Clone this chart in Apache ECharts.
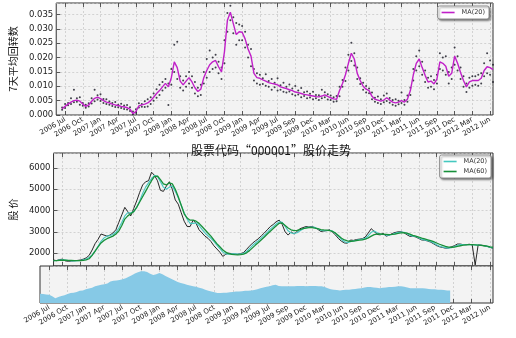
<!DOCTYPE html>
<html><head><meta charset="utf-8">
<script src="https://cdn.jsdelivr.net/npm/echarts@6/dist/echarts.min.js"></script>
<style>html,body{margin:0;padding:0;background:#fff}#c{width:516px;height:338px}</style>
</head><body><div id="c"></div>
<script>
const tickLabels = ['2006 Jul','2006 Oct','2007 Jan','2007 Apr','2007 Jul','2007 Oct','2008 Jan','2008 Apr','2008 Jul','2008 Oct','2009 Jan','2009 Apr','2009 Jul','2009 Sep','2009 Dec','2010 Mar','2010 Jun','2010 Sep','2010 Dec','2011 Mar','2011 Jun','2011 Sep','2011 Dec','2012 Mar','2012 Jun'];

const turnoverMA20 = [
null,null,0.0022,0.003,0.0038,0.0045,0.005,0.0052,0.0048,0.0038,
0.003,0.0035,0.0048,0.0058,0.0062,0.0057,0.005,0.0045,0.0042,0.0038,
0.0035,0.0033,0.003,0.0028,0.0026,0.002,0.0005,0.0012,0.0032,0.0035,
0.0038,0.0042,0.005,0.0062,0.0075,0.0085,0.0098,0.011,0.0098,0.013,
0.0185,0.0165,0.0118,0.0105,0.0118,0.013,0.0115,0.0095,0.0082,0.009,
0.013,0.0155,0.0175,0.0185,0.019,0.0168,0.015,0.022,0.033,0.0358,
0.0318,0.028,0.029,0.0288,0.0265,0.023,0.0205,0.0145,0.013,0.0128,
0.0122,0.0118,0.0113,0.011,0.0108,0.0105,0.0098,0.0095,0.0092,0.0088,
0.0085,0.008,0.0078,0.0075,0.0072,0.007,0.0068,0.0066,0.0064,0.0063,
0.0066,0.007,0.0065,0.006,0.0056,0.0055,0.0085,0.011,0.014,0.018,
0.0215,0.0195,0.0145,0.012,0.01,0.009,0.0085,0.0065,0.0055,0.0052,
0.0048,0.0052,0.006,0.0052,0.0045,0.0042,0.0045,0.005,0.0045,0.0055,
0.0085,0.014,0.018,0.0195,0.0165,0.0138,0.0115,0.0118,0.0108,0.0125,
0.0185,0.018,0.017,0.0135,0.0145,0.0205,0.018,0.0148,0.012,0.0098,
0.0115,0.012,0.012,0.012,0.0128,0.0155,0.0168,0.0165,0.0158];

const turnoverHigh = [
null,null,0.0026,0.0038,0.0042,0.0058,0.0088,0.0058,0.0062,0.0042,
0.0036,0.0041,0.0058,0.0088,0.0069,0.0072,0.0056,0.0055,0.0047,0.0042,
0.0045,0.0036,0.0039,0.0033,0.0035,0.0027,0.0012,0.002,0.0041,0.0038,
0.0048,0.0055,0.0062,0.0075,0.009,0.0105,0.0115,0.0125,0.011,0.016,
0.0245,0.0255,0.0135,0.012,0.0135,0.015,0.0135,0.0115,0.0095,0.0105,
0.015,0.0195,0.0225,0.02,0.021,0.0185,0.0165,0.026,0.0355,0.038,
0.034,0.032,0.0315,0.031,0.029,0.0245,0.023,0.016,0.0145,0.014,
0.0128,0.0142,0.0118,0.0125,0.0112,0.0128,0.0104,0.0112,0.0098,0.0106,
0.0092,0.0101,0.0085,0.0094,0.0079,0.0082,0.0074,0.0081,0.007,0.0069,
0.0088,0.0079,0.0072,0.0068,0.0062,0.0066,0.0098,0.0122,0.0165,0.021,
0.0252,0.0215,0.0165,0.0128,0.0112,0.0101,0.0092,0.0078,0.006,0.0064,
0.0055,0.0068,0.0075,0.0059,0.0052,0.0055,0.005,0.0078,0.0052,0.0068,
0.0095,0.016,0.0205,0.0225,0.0185,0.0155,0.013,0.0135,0.0122,0.014,
0.0215,0.02,0.0205,0.015,0.0165,0.0235,0.0205,0.0165,0.0135,0.011,
0.013,0.0135,0.0135,0.014,0.0145,0.018,0.0215,0.019,0.0175];

const turnoverLow = [
null,null,0.0018,0.0024,0.0034,0.0038,0.0044,0.0046,0.0036,0.0032,
0.0025,0.003,0.004,0.0048,0.0054,0.0049,0.0042,0.0038,0.0036,0.0031,
0.0028,0.0027,0.0024,0.0021,0.0019,0.0014,0.0002,0.0008,0.0026,0.0029,
0.0028,0.003,0.0038,0.005,0.006,0.007,0.0085,0.0095,0.0035,0.0105,
0.015,0.0125,0.0095,0.0085,0.0098,0.011,0.0095,0.0075,0.0065,0.007,
0.011,0.013,0.015,0.016,0.0165,0.0145,0.0125,0.018,0.029,0.033,
0.0285,0.0245,0.026,0.026,0.0235,0.02,0.017,0.012,0.011,0.0105,
0.0108,0.0102,0.0098,0.0088,0.0097,0.0085,0.0088,0.0081,0.0078,0.0082,
0.0072,0.0068,0.0071,0.0062,0.0066,0.0058,0.0061,0.0055,0.0058,0.0052,
0.0058,0.0062,0.0054,0.0052,0.0046,0.0048,0.0065,0.0098,0.0118,0.0155,
0.0188,0.0172,0.0125,0.0108,0.0088,0.0078,0.0076,0.0055,0.0046,0.0042,
0.0038,0.0044,0.0049,0.0043,0.0036,0.0032,0.0037,0.0042,0.0036,0.0046,
0.007,0.012,0.0155,0.017,0.014,0.0115,0.0095,0.0098,0.009,0.011,
0.016,0.0155,0.014,0.011,0.0125,0.0175,0.0155,0.0125,0.0098,0.008,
0.0095,0.0102,0.0105,0.0102,0.011,0.0135,0.0145,0.014,0.0115];

const price = [
1680,1650,1700,1720,1640,1620,1630,1650,1660,1680,
1720,1780,1900,2150,2450,2650,2900,2850,2800,2850,
2950,3100,3450,3800,4150,3950,3750,4100,4450,4850,
5200,5350,5400,5800,5650,5400,4950,4900,5150,5350,
5000,4500,4300,3900,3500,3250,3250,3550,3400,3100,
2950,2800,2700,2550,2350,2200,2050,1850,1950,2000,
1980,1960,1950,1980,2030,2180,2330,2470,2580,2680,
2820,2950,3100,3250,3350,3480,3550,3350,3000,2850,
3000,2900,3020,3150,3200,3250,3230,3250,3200,3120,
3020,3040,3060,3100,2980,2850,2680,2560,2480,2470,
2620,2600,2640,2660,2680,2760,2950,3150,3020,2880,
2860,2930,2800,2840,2920,2970,3000,3010,2960,2870,
2790,2800,2760,2690,2620,2610,2570,2520,2440,2360,
2300,2270,2235,2240,2300,2350,2430,2430,2400,2400,
2420,2390,1450,2390,2380,2350,2320,2270,2230];

const priceMA20 = [
1650,1660,1680,1690,1680,1660,1640,1640,1650,1660,
1690,1730,1800,1920,2100,2330,2560,2720,2800,2830,
2880,2980,3180,3450,3750,3900,3900,3950,4150,4450,
4800,5100,5300,5500,5650,5600,5350,5100,5000,5100,
5150,4900,4600,4250,3900,3600,3400,3400,3420,3300,
3120,2950,2820,2700,2550,2380,2220,2050,1970,1950,
1970,1970,1960,1960,1990,2080,2220,2360,2480,2590,
2720,2850,2980,3130,3250,3370,3470,3450,3250,3050,
2950,2930,2960,3050,3130,3200,3220,3230,3210,3150,
3080,3050,3050,3080,3030,2920,2780,2640,2540,2490,
2540,2580,2610,2640,2660,2700,2820,2980,3040,2960,
2890,2880,2850,2840,2880,2930,2970,2990,2980,2920,
2840,2800,2780,2720,2650,2620,2590,2550,2480,2400,
2330,2290,2260,2240,2260,2310,2370,2410,2410,2400,
2400,2400,2390,2380,2370,2350,2320,2280,2250];

const priceMA60 = [
1650,1650,1660,1670,1670,1665,1660,1655,1650,1650,
1660,1690,1740,1900,2100,2300,2480,2600,2680,2740,
2800,2900,3050,3300,3600,3750,3850,3950,4150,4400,
4650,4900,5150,5400,5600,5620,5450,5250,5200,5300,
5250,5000,4650,4250,3850,3650,3550,3550,3500,3400,
3250,3100,2950,2800,2620,2450,2300,2150,2050,1980,
1950,1930,1920,1930,1960,2020,2120,2250,2380,2500,
2630,2760,2900,3030,3160,3290,3400,3420,3300,3180,
3100,3060,3070,3110,3150,3180,3200,3200,3180,3150,
3110,3090,3080,3060,3020,2940,2820,2700,2620,2580,
2560,2570,2590,2610,2630,2660,2720,2800,2870,2900,
2900,2890,2880,2870,2880,2900,2930,2950,2960,2940,
2890,2840,2800,2760,2710,2670,2630,2590,2540,2480,
2420,2370,2320,2290,2280,2290,2320,2350,2380,2390,
2400,2400,2390,2380,2370,2350,2330,2300,2280];

const volume = [
25,24,23,22,18,13,16,19,21,24,
27,28,30,33,34,37,39,41,45,47,
49,51,53,58,60,61,62,64,67,71,
75,80,83,86,86,84,79,76,78,81,
78,73,69,65,61,57,54,52,49,47,
45,44,41,39,36,33,31,29,27,27,
28,28,29,30,31,31,32,33,33,34,
35,37,40,42,44,45,48,49,46,45,
45,45,45,45,46,46,46,45,46,46,
46,45,45,43,40,37,36,35,34,35,
36,36,37,38,39,40,42,43,43,42,
41,40,41,42,43,43,44,45,45,44,
42,40,40,40,40,40,39,38,37,37,
36,36,35,34,34,null,null,null,null,null,
null,null,null,null,null,null,null,null,null];

const TICK_START = 3, TICK_STEP = 6;
const categories = price.map((_, i) => String(i));
const isTick = i => i >= TICK_START && (i - TICK_START) % TICK_STEP === 0;
const labelOf = i => isTick(i) ? tickLabels[(i - TICK_START) / TICK_STEP] : '';

const LATIN = 'DejaVu Sans';
const CJK = 'Noto Sans CJK SC';
const gridLine = {show: true, interval: (i) => isTick(i), lineStyle: {color: '#c4c4c4', width: 0.7, type: [2, 2]}};

function xAxis(gridIndex, showLabels) {
  return {
    type: 'category', gridIndex, data: categories, boundaryGap: false,
    axisLine: {show: false},
    axisTick: {show: true, inside: true, length: 4, interval: (i) => isTick(i), lineStyle: {color: '#333', width: 0.8}},
    axisLabel: {show: showLabels, interval: (i) => isTick(i), formatter: (v, i) => labelOf(i), rotate: 30,
      fontSize: 7, fontFamily: LATIN, color: '#222', margin: 4},
    splitLine: gridLine
  };
}
function xAxisTop(gridIndex) {
  return {
    type: 'category', gridIndex, data: categories, boundaryGap: false, position: 'top',
    axisLine: {show: false},
    axisTick: {show: true, inside: true, length: 4, interval: (i) => isTick(i), lineStyle: {color: '#333', width: 0.8}},
    axisLabel: {show: false}, splitLine: {show: false}
  };
}
const ySplit = {show: true, lineStyle: {color: '#c4c4c4', width: 0.7, type: [2, 2]}};
const yTick = {show: true, inside: true, length: 4, lineStyle: {color: '#333', width: 0.8}};

const legendBase = {
  backgroundColor: '#fff', borderColor: '#777', borderWidth: 0.8, borderRadius: 2,
  shadowColor: 'rgba(0,0,0,0.45)', shadowBlur: 2, shadowOffsetX: 1.5, shadowOffsetY: 1.5,
  padding: [3, 4], itemGap: 3, itemWidth: 13, itemHeight: 1.6, icon: 'rect',
  textStyle: {fontSize: 6.5, fontFamily: LATIN, color: '#333', padding: [0, 0, 0, 2]}
};
const legendNames = {'turnMA': 'MA(20)', 'pMA20': 'MA(20)', 'pMA60': 'MA(60)'};

const chart = echarts.init(document.getElementById('c'), null, {renderer: 'canvas'});
chart.setOption({
  animation: false,
  backgroundColor: '#fff',
  title: {text: '股票代码“000001”股价走势', left: 266, top: 139, textAlign: 'center',
    textStyle: {fontSize: 12, fontWeight: 'normal', fontFamily: CJK, color: '#111'}},
  legend: [
    Object.assign({}, legendBase, {data: ['turnMA'], right: 27, top: 6, formatter: n => legendNames[n]}),
    Object.assign({}, legendBase, {data: ['pMA20', 'pMA60'], orient: 'vertical', right: 25, top: 155, formatter: n => legendNames[n]})
  ],
  grid: [
    {left: 40, right: 23, top: 3, height: 112, show: true, backgroundColor: '#f3f3f3', borderColor: '#333', borderWidth: 1},
    {left: 40, right: 23, top: 153, height: 113, show: true, backgroundColor: '#f3f3f3', borderColor: '#333', borderWidth: 1},
    {left: 40, right: 23, top: 266, height: 37, show: true, backgroundColor: '#f3f3f3', borderColor: '#333', borderWidth: 1}
  ],
  xAxis: [xAxis(0, true), xAxis(1, false), xAxis(2, true), xAxisTop(0), xAxisTop(1), xAxisTop(2)],
  yAxis: [
    {type: 'value', gridIndex: 0, min: 0, max: 0.039, interval: 0.005,
      name: '7天平均回转数', nameLocation: 'middle', nameGap: 29,
      nameTextStyle: {fontSize: 10, fontFamily: CJK, color: '#111'},
      axisLine: {show: false}, axisTick: yTick, splitLine: ySplit,
      axisLabel: {fontSize: 8.5, fontFamily: LATIN, color: '#222', margin: 3, showMaxLabel: false, formatter: v => v.toFixed(3)}},
    {type: 'value', gridIndex: 1, min: 1400, max: 6700, splitNumber: 5,
      name: '股 价', nameLocation: 'middle', nameGap: 27,
      nameTextStyle: {fontSize: 10, fontFamily: CJK, color: '#111'},
      axisLine: {show: false}, axisTick: yTick, splitLine: ySplit,
      axisLabel: {fontSize: 8.5, fontFamily: LATIN, color: '#222', margin: 3, showMinLabel: false, showMaxLabel: false, formatter: v => String(v)}},
    {type: 'value', gridIndex: 2, min: 0, max: 100,
      axisLine: {show: false}, axisTick: {show: false}, splitLine: {show: false}, axisLabel: {show: false}}
  ],
  series: [
    {type: 'scatter', xAxisIndex: 0, yAxisIndex: 0, data: turnoverHigh, symbolSize: 2, itemStyle: {color: '#141420'}, silent: true},
    {type: 'scatter', xAxisIndex: 0, yAxisIndex: 0, data: turnoverLow, symbolSize: 2, itemStyle: {color: '#141420'}, silent: true},
    {name: 'turnMA', type: 'line', xAxisIndex: 0, yAxisIndex: 0, data: turnoverMA20, showSymbol: false,
      lineStyle: {color: '#c020c8', width: 1.4}, itemStyle: {color: '#c020c8'}, z: 5},
    {type: 'line', xAxisIndex: 1, yAxisIndex: 1, data: price, showSymbol: false,
      lineStyle: {color: '#111', width: 0.9}, itemStyle: {color: '#111'}},
    {name: 'pMA20', type: 'line', xAxisIndex: 1, yAxisIndex: 1, data: priceMA20, showSymbol: false,
      lineStyle: {color: '#45c8c0', width: 1.1}, itemStyle: {color: '#45c8c0'}},
    {name: 'pMA60', type: 'line', xAxisIndex: 1, yAxisIndex: 1, data: priceMA60, showSymbol: false,
      lineStyle: {color: '#17903a', width: 1.3}, itemStyle: {color: '#17903a'}},
    {type: 'line', xAxisIndex: 2, yAxisIndex: 2, data: volume, showSymbol: false,
      lineStyle: {width: 0}, areaStyle: {color: '#86c9e6', opacity: 1}, itemStyle: {color: '#86c9e6'}}
  ]
});
</script></body></html>
